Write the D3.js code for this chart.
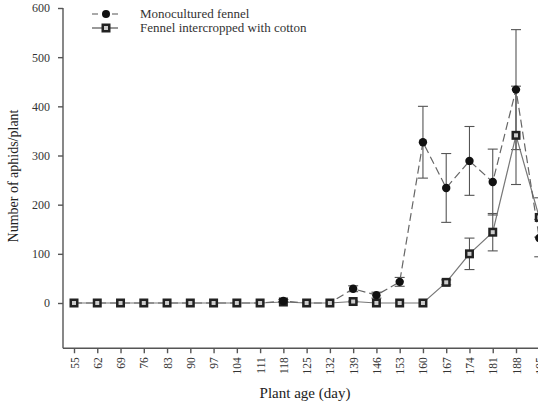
<!DOCTYPE html>
<html><head><meta charset="utf-8">
<script src="https://cdn.jsdelivr.net/npm/d3@7"></script>
<style>body{margin:0;background:#fff}svg{display:block}</style>
</head><body>
<svg id="c" width="538" height="412"></svg>
<script>
const days = [55,62,69,76,83,90,97,104,111,118,125,132,139,146,153,160,167,174,181,188,195];
const mono = [0,0,0,0,0,0,0,0,0,4,0,0,29,16,43,327,234,289,246,434,132];
const monoErr = [0,0,0,0,0,0,0,0,0,3,0,0,6,6,9,73,70,70,67,122,38];
const inter = [0,0,0,0,0,0,0,0,0,2,0,0,3,0,0,0,42,100,144,341,174];
const interErr = [0,0,0,0,0,0,0,0,0,1,0,0,1,0,0,0,5,32,38,100,40];
const yTicks = [0,100,200,300,400,500,600];
const seriesNames = ["Monocultured fennel","Fennel intercropped with cotton"];

const svg = d3.select("#c");
const x = d3.scaleLinear().domain([55,188]).range([74,516]);
const y = d3.scaleLinear().domain([0,600]).range([303,8]);
const yMin = -92;
const font = "'Liberation Serif','Times New Roman',serif";
const axisCol = "#555", textCol = "#333";

// axes
const yAx = svg.append("g").attr("transform","translate(63,0)")
  .call(d3.axisLeft(y).tickValues(yTicks).tickSize(5).tickPadding(8).tickSizeOuter(0));
yAx.select(".domain").attr("d", `M0,${y(600)}V${y(yMin)}`);
const xAx = svg.append("g").attr("transform",`translate(0,${y(yMin)})`)
  .call(d3.axisBottom(x).tickValues(days).tickSize(5).tickSizeOuter(0));
xAx.select(".domain").attr("d","M63,0H540");
xAx.selectAll(".tick text").attr("transform","rotate(-90)").attr("text-anchor","end")
  .attr("x",-9).attr("y",0).attr("dy","0.35em");
[yAx,xAx].forEach(a=>{
  a.selectAll(".domain,.tick line").attr("stroke",axisCol).attr("stroke-width",1.4);
  a.selectAll("text").attr("fill",textCol).style("font-family",font).style("font-size","11.5px");
});
yAx.selectAll("text").style("font-size","12px");

svg.append("text").attr("transform","translate(18,176) rotate(-90)").attr("text-anchor","middle")
  .style("font-family",font).style("font-size","14px").attr("fill","#222").text("Number of aphids/plant");
svg.append("text").attr("x",305).attr("y",398).attr("text-anchor","middle")
  .style("font-family",font).style("font-size","15px").attr("fill","#222").text("Plant age (day)");

// error bars
function errBars(vals, errs){
  const g = svg.append("g").attr("stroke","#555").attr("stroke-width",1.1).attr("fill","none");
  vals.forEach((v,i)=>{
    const e = errs[i]; if(!e) return;
    const cx = x(days[i]);
    g.append("line").attr("x1",cx).attr("x2",cx).attr("y1",y(v+e)).attr("y2",y(v-e));
    g.append("line").attr("x1",cx-5).attr("x2",cx+5).attr("y1",y(v+e)).attr("y2",y(v+e));
    g.append("line").attr("x1",cx-5).attr("x2",cx+5).attr("y1",y(v-e)).attr("y2",y(v-e));
  });
}
errBars(mono, monoErr);
errBars(inter, interErr);

const line = d3.line().x((d,i)=>x(days[i])).y(d=>y(d));
svg.append("path").datum(inter).attr("d",line).attr("fill","none").attr("stroke","#777").attr("stroke-width",1.2);
svg.append("path").datum(mono).attr("d",line).attr("fill","none").attr("stroke","#666").attr("stroke-width",1.2).attr("stroke-dasharray","8,4");

function square(g,cx,cy){
  g.append("rect").attr("x",cx-4.5).attr("y",cy-4.5).attr("width",9).attr("height",9).attr("fill","#222");
  g.append("rect").attr("x",cx-2).attr("y",cy-2).attr("width",4).attr("height",4).attr("fill","#ccc");
}
const gi = svg.append("g");
inter.forEach((v,i)=>square(gi,x(days[i]),y(v)));
const gm = svg.append("g");
mono.forEach((v,i)=>{ if(i<9 || i===10 || i===11) return; gm.append("circle").attr("cx",x(days[i])).attr("cy",y(v)).attr("r",4.2).attr("fill","#111"); });

// legend
const lg = svg.append("g");
lg.append("line").attr("x1",92).attr("x2",118).attr("y1",14).attr("y2",14).attr("stroke","#555").attr("stroke-width",1.2).attr("stroke-dasharray","6,4");
lg.append("circle").attr("cx",106).attr("cy",14).attr("r",4).attr("fill","#111");
lg.append("line").attr("x1",92).attr("x2",118).attr("y1",28).attr("y2",28).attr("stroke","#555").attr("stroke-width",1.2);
square(lg,106,28);
lg.selectAll("text").data(seriesNames).join("text").attr("x",140).attr("y",(d,i)=>18+i*14)
  .style("font-family",font).style("font-size","13px").attr("fill","#333").text(d=>d);
</script>
</body></html>
